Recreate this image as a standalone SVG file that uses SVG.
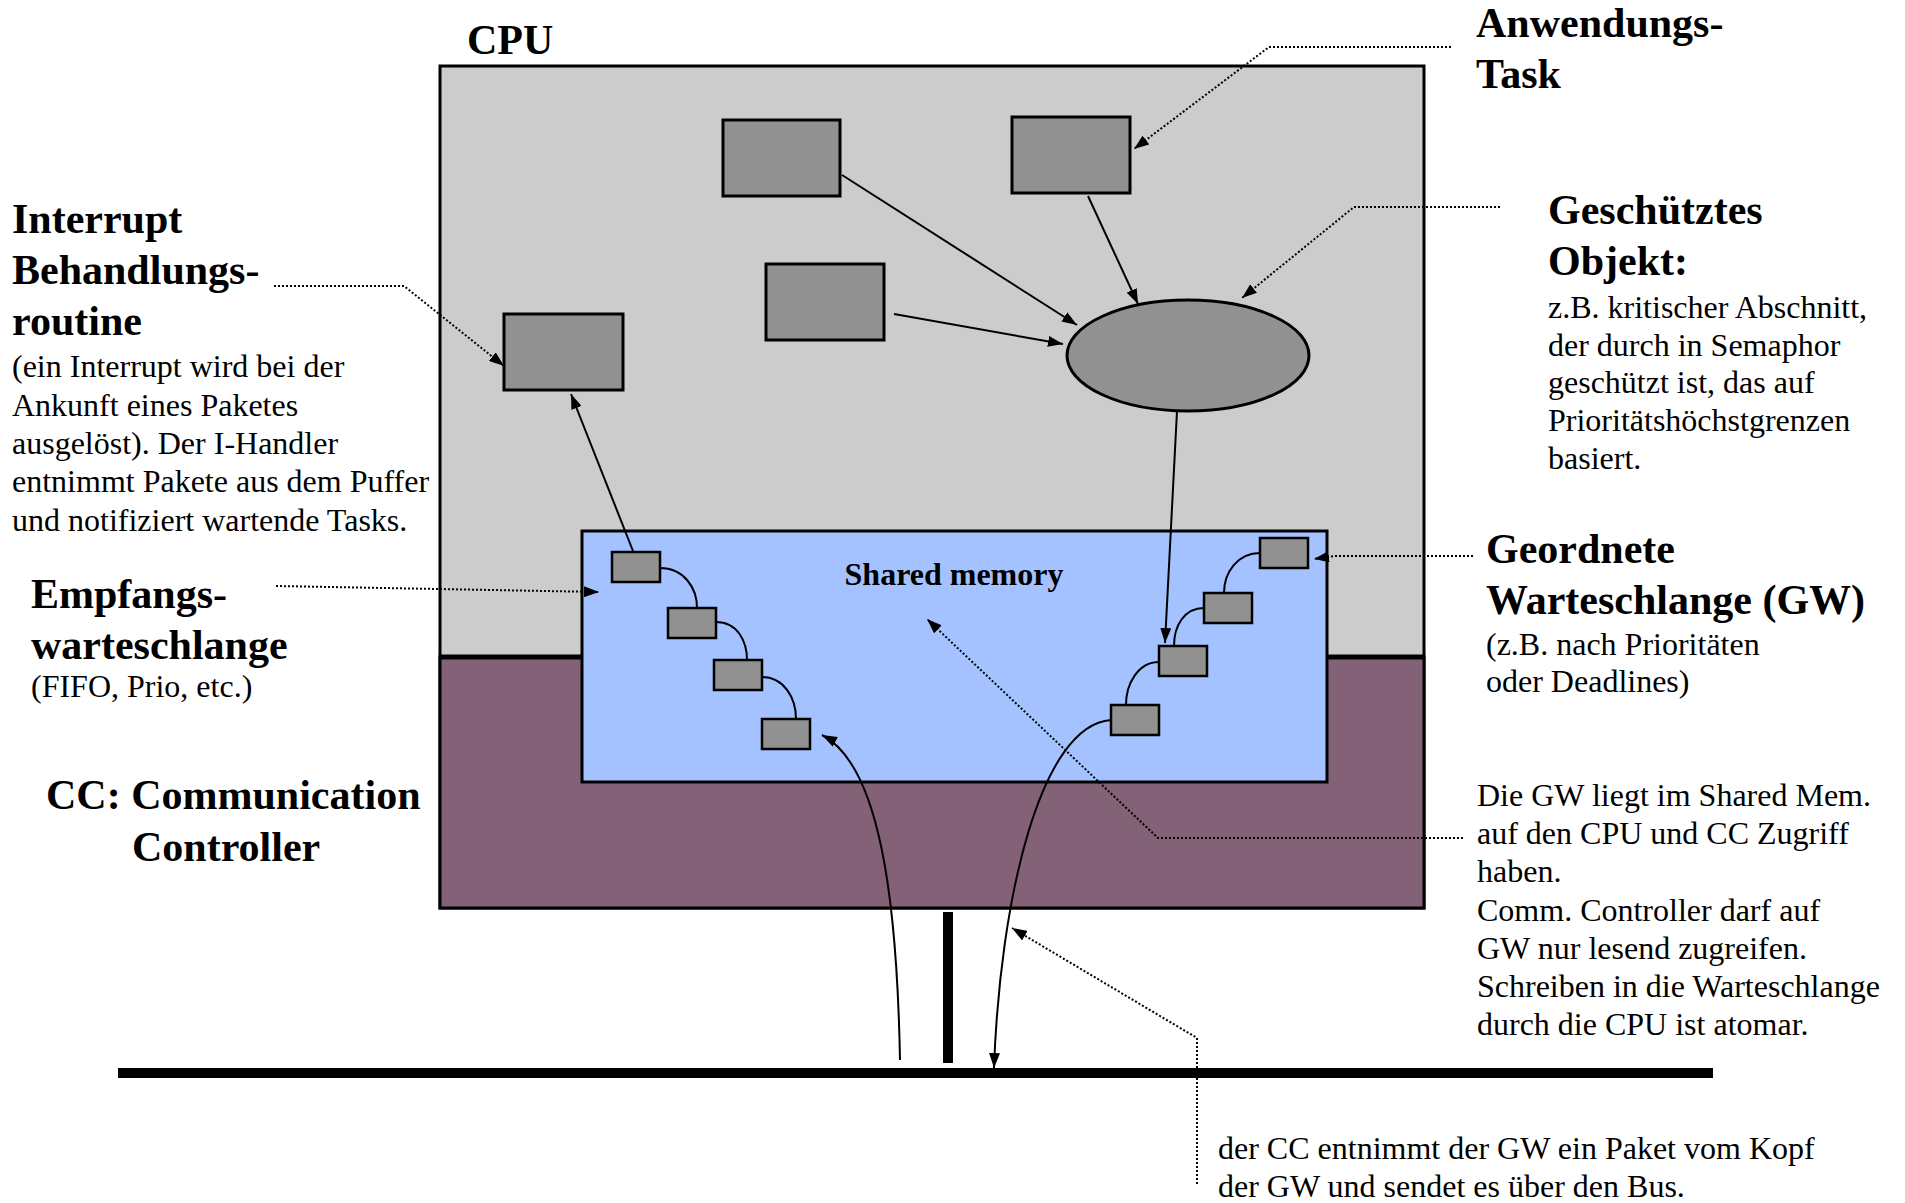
<svg xmlns="http://www.w3.org/2000/svg" width="1905" height="1203" viewBox="0 0 1905 1203">
<defs>
<style>
.box{fill:#919191;stroke:#000;stroke-width:3}
.q{fill:#919191;stroke:#000;stroke-width:2.5}
.con{fill:none;stroke:#000;stroke-width:2}
.lead{fill:none;stroke:#000;stroke-width:2;stroke-dasharray:2 2}
.h{font-family:"Liberation Serif","Times New Roman",serif;font-weight:bold;font-size:42px;fill:#000}
.t{font-family:"Liberation Serif","Times New Roman",serif;font-size:32px;fill:#000}
.sm{font-family:"Liberation Serif","Times New Roman",serif;font-weight:bold;font-size:32px;fill:#000}
</style>
<marker id="ah" viewBox="0 0 15 11" refX="15" refY="5.5" markerWidth="15" markerHeight="11" orient="auto" markerUnits="userSpaceOnUse">
<path d="M0,0 L15,5.5 L0,11 z" fill="#000"/>
</marker>
</defs>
<rect width="1905" height="1203" fill="#fff"/>

<g id="cpu">
<rect x="440" y="66" width="984" height="842" fill="#cccccc" stroke="#000" stroke-width="3"/>
<rect x="440" y="657" width="984" height="251" fill="#836277" stroke="#000" stroke-width="3"/>
<line x1="440" y1="657" x2="1424" y2="657" stroke="#000" stroke-width="5"/>
<text class="h" x="467" y="54">CPU</text>
</g>

<g id="shared-memory">
<rect x="582" y="531" width="745" height="251" fill="#a4c2ff" stroke="#000" stroke-width="3"/>
<text class="sm" x="954" y="585" text-anchor="middle">Shared memory</text>
</g>

<g id="task-a"><rect class="box" x="723" y="120" width="117" height="76"/></g>
<g id="task-b"><rect class="box" x="766" y="264" width="118" height="76"/></g>
<g id="task-c"><rect class="box" x="1012" y="117" width="118" height="76"/></g>
<g id="interrupt-handler"><rect class="box" x="504" y="314" width="119" height="76"/></g>
<g id="protected-object"><ellipse cx="1188" cy="355.5" rx="121" ry="55.5" fill="#919191" stroke="#000" stroke-width="3"/></g>

<g id="rx-queue">
<rect class="q" x="612" y="552" width="48" height="30"/>
<rect class="q" x="668" y="608" width="48" height="30"/>
<rect class="q" x="714" y="660" width="48" height="30"/>
<rect class="q" x="762" y="719" width="48" height="30"/>
</g>
<g id="gw-queue">
<rect class="q" x="1260" y="538" width="48" height="30"/>
<rect class="q" x="1204" y="593" width="48" height="30"/>
<rect class="q" x="1159" y="646" width="48" height="30"/>
<rect class="q" x="1111" y="705" width="48" height="30"/>
</g>

<g id="bus">
<line x1="118" y1="1073" x2="1713" y2="1073" stroke="#000" stroke-width="10"/>
<rect x="943" y="912" width="10" height="151" fill="#000"/>
</g>

<g id="connectors">
<path class="con" d="M660,568 C684,568 697,588 697,608"/>
<path class="con" d="M716,622 C738,622 747,642 747,660"/>
<path class="con" d="M762,677 C784,677 796,698 796,719"/>
<path class="con" d="M1260,553 C1238,553 1224,572 1224,593"/>
<path class="con" d="M1204,608 C1184,608 1174,626 1174,646"/>
<path class="con" d="M1159,662 C1138,662 1126,684 1126,705"/>
<path class="con" d="M842,175 L1077,325" marker-end="url(#ah)"/>
<path class="con" d="M894,314 L1063,344" marker-end="url(#ah)"/>
<path class="con" d="M1088,196 L1138,304" marker-end="url(#ah)"/>
<path class="con" d="M1177,411 L1165,643" marker-end="url(#ah)"/>
<path class="con" d="M633,551 L571,394" marker-end="url(#ah)"/>
<path class="con" d="M900,1060 C897,900 880,765 822,735" marker-end="url(#ah)"/>
<path class="con" d="M1111,720 C1040,725 1000,900 994,1068" marker-end="url(#ah)"/>
<path class="lead" d="M1451,47 L1269,47 L1134,149" marker-end="url(#ah)"/>
<path class="lead" d="M1500,207 L1354,207 L1242,298" marker-end="url(#ah)"/>
<path class="lead" d="M274,286 L404,286 L504,366" marker-end="url(#ah)"/>
<path class="lead" d="M276,586 L599,592" marker-end="url(#ah)"/>
<path class="lead" d="M1473,556 L1334,556 L1314,559" marker-end="url(#ah)"/>
<path class="lead" d="M1463,838 L1158,838 L927,619" marker-end="url(#ah)"/>
<path class="lead" d="M1197,1184 L1197,1038 L1012,928" marker-end="url(#ah)"/>
</g>

<g id="labels">
<text class="h" x="1476" y="37">Anwendungs-</text>
<text class="h" x="1476" y="88">Task</text>
<text class="h" x="12" y="233">Interrupt</text>
<text class="h" x="12" y="284">Behandlungs-</text>
<text class="h" x="12" y="335">routine</text>
<text class="t" x="12" y="377">(ein Interrupt wird bei der</text>
<text class="t" x="12" y="416">Ankunft eines Paketes</text>
<text class="t" x="12" y="454">ausgelöst). Der I-Handler</text>
<text class="t" x="12" y="492">entnimmt Pakete aus dem Puffer</text>
<text class="t" x="12" y="531">und notifiziert wartende Tasks.</text>
<text class="h" x="31" y="608">Empfangs-</text>
<text class="h" x="31" y="659">warteschlange</text>
<text class="t" x="31" y="697">(FIFO, Prio, etc.)</text>
<text class="h" x="46" y="809">CC: Communication</text>
<text class="h" x="132" y="861">Controller</text>
<text class="h" x="1548" y="224">Geschütztes</text>
<text class="h" x="1548" y="275">Objekt:</text>
<text class="t" x="1548" y="318">z.B. kritischer Abschnitt,</text>
<text class="t" x="1548" y="356">der durch in Semaphor</text>
<text class="t" x="1548" y="393">geschützt ist, das auf</text>
<text class="t" x="1548" y="431">Prioritätshöchstgrenzen</text>
<text class="t" x="1548" y="469">basiert.</text>
<text class="h" x="1486" y="563">Geordnete</text>
<text class="h" x="1486" y="614">Warteschlange (GW)</text>
<text class="t" x="1486" y="655">(z.B. nach Prioritäten</text>
<text class="t" x="1486" y="692">oder Deadlines)</text>
<text class="t" x="1477" y="806">Die GW liegt im Shared Mem.</text>
<text class="t" x="1477" y="844">auf den CPU und CC Zugriff</text>
<text class="t" x="1477" y="882">haben.</text>
<text class="t" x="1477" y="921">Comm. Controller darf auf</text>
<text class="t" x="1477" y="959">GW nur lesend zugreifen.</text>
<text class="t" x="1477" y="997">Schreiben in die Warteschlange</text>
<text class="t" x="1477" y="1035">durch die CPU ist atomar.</text>
<text class="t" x="1218" y="1159">der CC entnimmt der GW ein Paket vom Kopf</text>
<text class="t" x="1218" y="1197">der GW und sendet es über den Bus.</text>
</g>
</svg>
